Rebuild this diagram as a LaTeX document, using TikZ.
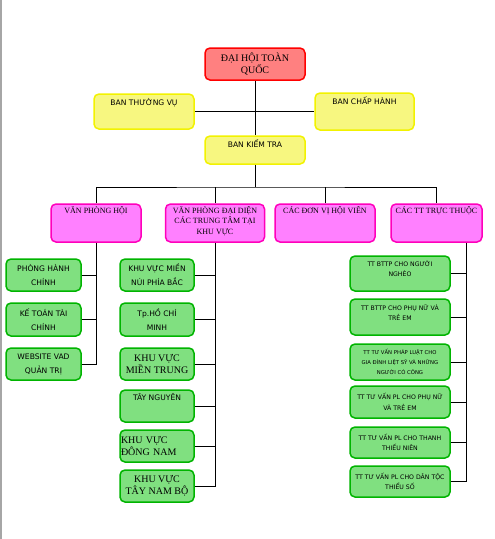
\documentclass[tikz,border=0pt]{standalone}
\usepackage{fontspec}
\setmainfont{Liberation Serif}
\setsansfont{DejaVu Sans}
\usetikzlibrary{positioning}

\definecolor{redfill}{HTML}{FF8080}
\definecolor{yelfill}{HTML}{F7F780}
\definecolor{yelline}{HTML}{F2F200}
\definecolor{pinkfill}{HTML}{FF80FF}
\definecolor{pinkline}{HTML}{FF00BB}
\definecolor{grnfill}{HTML}{80E080}
\definecolor{grnline}{HTML}{00B400}

\begin{document}
\begin{tikzpicture}[x=1pt,y=-1pt,
		box/.style={draw,rounded corners=5pt,line width=1.5pt,inner sep=0pt,align=center},
		redbox/.style={box,draw=red,fill=redfill},
		yelbox/.style={box,draw=yelline,fill=yelfill},
		pinkbox/.style={box,draw=pinkline,fill=pinkfill},
		grnbox/.style={box,draw=grnline,fill=grnfill},
		serifbig/.style={font=\fontsize{10}{12.5}\selectfont},
		serifmid/.style={font=\fontsize{10}{12}\selectfont},
		serifsm/.style={font=\fontsize{8}{10.5}\selectfont},
		sanstxt/.style={font=\sffamily\fontsize{7.6}{14}\selectfont},
		sanssm/.style={font=\sffamily\fontsize{6.2}{10.5}\selectfont},
		sanstiny/.style={font=\sffamily\fontsize{5.3}{10}\selectfont},
		txt/.style={inner sep=0pt,align=center},
		link/.style={line width=0.8pt}]
		\useasboundingbox (0,0) rectangle (495,539);
		\draw[gray!70,line width=1.5pt] (0.75,0) -- (0.75,539);

		% top
		\node[redbox,serifbig,minimum width=100pt,minimum height=32pt] (dh) at (255,64) {ĐẠI HỘI TOÀN\\QUỐC};
		\node[yelbox,minimum width=100pt,minimum height=35pt] (btv) at (144,111.5) {};
		\node[yelbox,minimum width=99pt,minimum height=37pt] (bch) at (364.5,111.5) {};
		\node[yelbox,minimum width=100pt,minimum height=28pt] (bkt) at (255,150) {};
		\node[txt,sanstxt,below=5pt of btv.north] (btv-t) {BAN THƯỜNG  VỤ};
		\node[txt,sanstxt,below=4pt of bch.north] (bch-t) {BAN CHẤP  HÀNH};
		\node[txt,sanstxt,below=4pt of bkt.north] (bkt-t) {BAN  KIỂM TRA};

		% second row
		\node[pinkbox,minimum width=90pt,minimum height=38pt] (vph) at (96,223) {};
		\node[pinkbox,minimum width=99pt,minimum height=38pt] (vpdd) at (215,223) {};
		\node[pinkbox,minimum width=100pt,minimum height=38pt] (cdv) at (325,223) {};
		\node[pinkbox,minimum width=91pt,minimum height=38pt] (cttt) at (436.5,223) {};
		\node[txt,serifsm,below=3pt of vph.north] (vph-t) {VĂN PHÒNG HỘI};
		\node[txt,serifsm,below=3pt of vpdd.north] (vpdd-t) {VĂN PHÒNG ĐẠI DIỆN\\CÁC TRUNG TÂM TẠI\\KHU VỰC};
		\node[txt,serifsm,below=3pt of cdv.north] (cdv-t) {CÁC ĐƠN VỊ HỘI VIÊN};
		\node[txt,serifsm,below=3pt of cttt.north] (cttt-t) {CÁC TT TRỰC THUỘC};

		% left column
		\node[grnbox,sanstxt,minimum width=75pt,minimum height=32pt] (phc) at (43.5,275) {PHÒNG  HÀNH\\CHÍNH};
		\node[grnbox,sanstxt,minimum width=75pt,minimum height=33pt] (ktc) at (43.5,319.5) {KẾ TOÁN TÀI\\CHÍNH};
		\node[grnbox,sanstxt,minimum width=75pt,minimum height=32pt] (web) at (43.5,364) {WEBSITE VAD\\QUẢN TRỊ};

		% middle column
		\node[grnbox,sanstxt,minimum width=74pt,minimum height=32pt] (k1) at (157,275) {KHU VỰC MIỀN\\NÚI PHÍA BẮC};
		\node[grnbox,sanstxt,minimum width=74pt,minimum height=33pt] (k2) at (157,319.5) {Tp.HỒ CHÍ\\MINH};
		\node[grnbox,serifmid,minimum width=74pt,minimum height=32pt] (k3) at (157,364) {KHU VỰC\\MIỀN TRUNG};
		\node[grnbox,minimum width=74pt,minimum height=32pt] (k4) at (157,406) {};
		\node[txt,sanstxt,below=4pt of k4.north] (k4-t) {TÂY NGUYÊN};
		\node[grnbox,serifmid,align=left,text width=72pt,minimum width=74pt,minimum height=32pt] (k5) at (157,446) {KHU VỰC\\ĐÔNG NAM};
		\node[grnbox,serifmid,minimum width=74pt,minimum height=32pt] (k6) at (157,486) {KHU VỰC\\TÂY NAM BỘ};

		% right column
		\node[grnbox,minimum width=100pt,minimum height=35pt] (t1) at (400,273.5) {};
		\node[grnbox,minimum width=100pt,minimum height=36pt] (t2) at (400,317) {};
		\node[txt,sanssm,below=5pt of t1.north] (t1-t) {TT BTTP CHO NGƯỜI\\NGHÈO};
		\node[txt,sanssm,below=6pt of t2.north] (t2-t) {TT BTTP CHO PHỤ NỮ VÀ\\TRẺ EM};
		\node[grnbox,sanstiny,minimum width=100pt,minimum height=36pt] (t3) at (400,362) {TT TƯ VẤN PHÁP LUẬT CHO\\GIA ĐÌNH LIỆT SỸ VÀ NHỮNG\\NGƯỜI CÓ CÔNG};
		\node[grnbox,sanssm,minimum width=100pt,minimum height=32pt] (t4) at (400,402) {TT TƯ VẤN PL CHO PHỤ NỮ\\VÀ TRẺ EM};
		\node[grnbox,sanssm,minimum width=100pt,minimum height=31pt] (t5) at (400,442.5) {TT TƯ VẤN PL CHO THANH\\THIẾU NIÊN};
		\node[grnbox,sanssm,minimum width=100pt,minimum height=31pt] (t6) at (400,481.5) {TT TƯ VẤN PL CHO DÂN TỘC\\THIỂU SỐ};

		% links
		\draw[link] (dh.south) -- (bkt.north);
		\draw[link] (btv.east) -- (bch.west);
		\coordinate (bus) at (255,187);
		\draw[link] (bkt.south) -- (bus);
		\draw[link] (vph.north) |- (bus) -| (cttt.north);
		\draw[link] (vpdd.north) -- (vpdd.north |- bus);
		\draw[link] (cdv.north) -- (cdv.north |- bus);

		\draw[link] (vph.south) |- (web.east);
		\draw[link] (phc.east) -- (phc.east -| vph.south);
		\draw[link] (ktc.east) -- (ktc.east -| vph.south);

		\draw[link] (vpdd.south) |- (k6.east);
		\foreach \k in {k1,k2,k3,k4,k5}
			\draw[link] (\k.east) -- (\k.east -| vpdd.south);

		\coordinate (rtop) at ([xshift=29.5pt]cttt.south);
		\draw[link] (rtop) |- (t6.east);
		\foreach \t in {t1,t2,t3,t4,t5}
			\draw[link] (\t.east) -- (\t.east -| rtop);
	\end{tikzpicture}
\end{document}
